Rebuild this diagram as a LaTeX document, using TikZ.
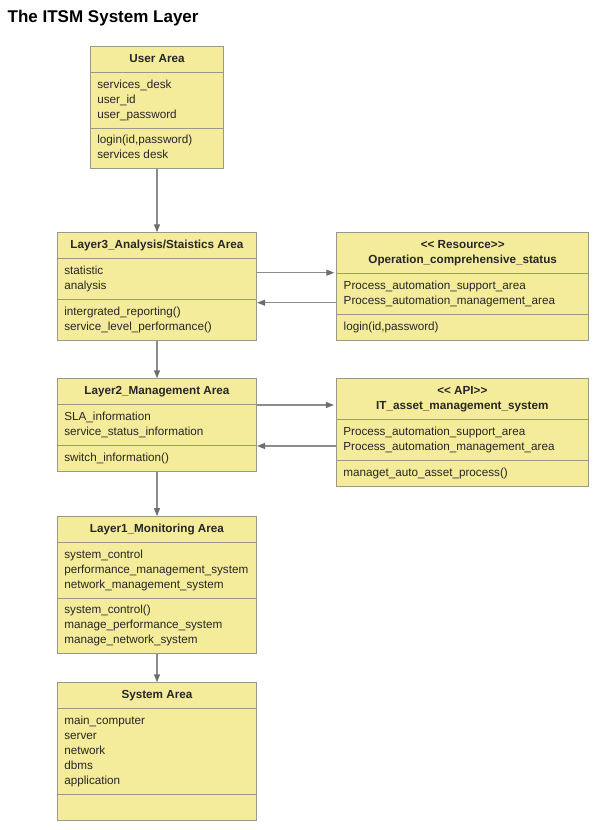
\documentclass[tikz,border=0pt]{standalone}
\usepackage{fontspec}
\setmainfont{Liberation Sans}
\usetikzlibrary{shapes.multipart,arrows.meta}
\definecolor{boxfill}{HTML}{F5EC9B}
\definecolor{boxline}{HTML}{999988}
\definecolor{arrline}{HTML}{8C8C8C}
\definecolor{arrtip}{HTML}{6E6E6E}
\newcommand\rows[1]{\spaceskip=0pt\relax\strut#1\strut}
\newcommand\hd[1]{\makebox[\linewidth]{\textbf{#1}}}
\newcommand\lt{\textless\kern0pt\textless}
\newcommand\gt{\textgreater\kern0pt\textgreater}

\begin{document}
\begin{tikzpicture}[x=1pt,y=-1pt,
 cls/.style={rectangle split,rectangle split parts=3,draw=boxline,fill=boxfill,
 line width=0.8pt,text width=#1,align=left,inner xsep=7pt,inner ysep=5pt,
 anchor=north,font=\fontsize{11.7}{15}\selectfont,text=black!85},
 arr/.style={draw=arrline,line width=1.1pt,-{Triangle[length=8pt,width=6pt,color=arrtip]}}]

	\useasboundingbox (0,0) rectangle (597,830);
	\node[anchor=base west,inner sep=0pt,font=\fontsize{17}{20}\selectfont\bfseries] (title) at (7.5,22.7) {The ITSM System Layer};

	\node[cls=119.3pt] (user) at (157,46) {\rows{\hd{User Area}}
		\nodepart{two}\rows{services\_desk\\user\_id\\user\_password}
		\nodepart{three}\rows{login(id,password)\\services desk}};
	\node[cls=185.4pt] (l3) at (157,232.3) {\rows{\hd{Layer3\_Analysis/Staistics Area}}
		\nodepart{two}\rows{statistic\\analysis}
		\nodepart{three}\rows{intergrated\_reporting()\\service\_level\_performance()}};
	\node[cls=185.4pt] (l2) at (157,378.3) {\rows{\hd{Layer2\_Management Area}}
		\nodepart{two}\rows{SLA\_information\\service\_status\_information}
		\nodepart{three}\rows{switch\_information()}};
	\node[cls=185.4pt] (l1) at (157,516) {\rows{\hd{Layer1\_Monitoring Area}}
		\nodepart{two}\rows{system\_control\\performance\_management\_system\\network\_management\_system}
		\nodepart{three}\rows{system\_control()\\manage\_performance\_system\\manage\_network\_system}};
	\node[cls=185.4pt] (sys) at (157,682.3) {\rows{\hd{System Area}}
		\nodepart{two}\rows{main\_computer\\server\\network\\dbms\\application}
		\nodepart{three}\strut};

	\node[cls=238pt] (op) at (462.7,232.3) {\rows{\hd{\lt{} Resource\gt}\\\hd{Operation\_comprehensive\_status}}
		\nodepart{two}\rows{Process\_automation\_support\_area\\Process\_automation\_management\_area}
		\nodepart{three}\rows{login(id,password)}};
	\node[cls=238pt] (it) at (462.3,378.3) {\rows{\hd{\lt{} API\gt}\\\hd{IT\_asset\_management\_system}}
		\nodepart{two}\rows{Process\_automation\_support\_area\\Process\_automation\_management\_area}
		\nodepart{three}\rows{managet\_auto\_asset\_process()}};

	% down the layers
	\draw[arr] (user.south) -- (l3.north);
	\draw[arr] (l3.south) -- (l2.north);
	\draw[arr] (l2.south) -- (l1.north);
	\draw[arr] (l1.south) -- (sys.north);
	% to and from the side boxes
	\draw[arr,shorten >=2pt] ([yshift=-40.4pt]l3.north east) -- ([yshift=-40.4pt]l3.north east -| op.west);
	\draw[arr] ([yshift=-70.4pt]l3.north east -| op.west) -- ([yshift=-70.4pt]l3.north east);
	\draw[arr,shorten >=2pt] ([yshift=-26.7pt]l2.north east) -- ([yshift=-26.7pt]l2.north east -| it.west);
	\draw[arr] ([yshift=-67.7pt]l2.north east -| it.west) -- ([yshift=-67.7pt]l2.north east);
\end{tikzpicture}
\end{document}
